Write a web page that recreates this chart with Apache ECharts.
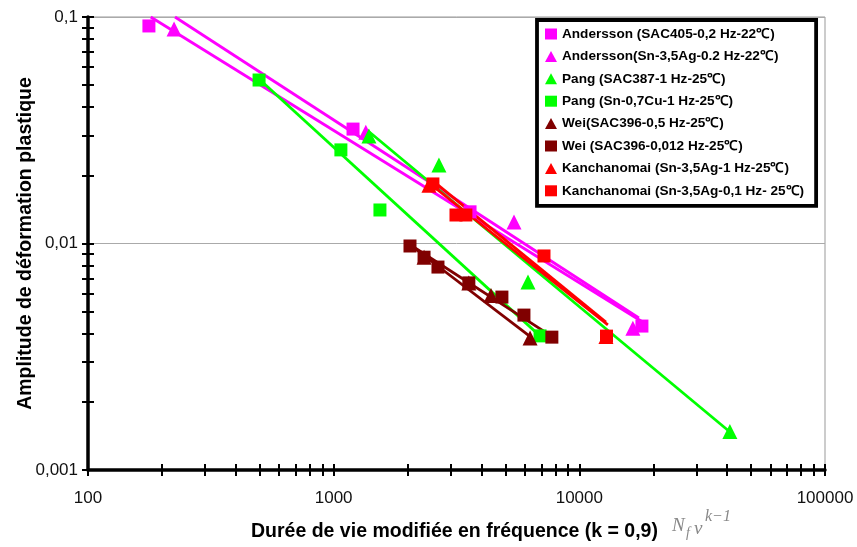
<!DOCTYPE html>
<html>
<head>
<meta charset="utf-8">
<script src="https://cdn.jsdelivr.net/npm/echarts@6/dist/echarts.min.js"></script>
<style>html,body{margin:0;padding:0;background:#fff}#c{width:857px;height:547px}</style>
</head>
<body>
<div id="c"></div>
<script>
// ---------- data ----------
const seriesNames = [
  'Andersson (SAC405-0,2 Hz-22℃)',
  'Andersson(Sn-3,5Ag-0.2 Hz-22℃)',
  'Pang (SAC387-1 Hz-25℃)',
  'Pang (Sn-0,7Cu-1 Hz-25℃)',
  'Wei(SAC396-0,5 Hz-25℃)',
  'Wei (SAC396-0,012 Hz-25℃)',
  'Kanchanomai (Sn-3,5Ag-1 Hz-25℃)',
  'Kanchanomai (Sn-3,5Ag-0,1 Hz- 25℃)'
];
const seriesSymbols = ['rect','triangle','triangle','rect','triangle','rect','triangle','rect'];
const seriesColors = ['#FF00FF','#FF00FF','#00FF00','#00FF00','#800000','#800000','#FF0000','#FF0000'];

const andSAC_x = [177, 1199, 3590, 17980];
const andSAC_y = [0.0913, 0.0320, 0.0138, 0.00432];
const andSn_x  = [224, 1352, 5420, 16520];
const andSn_y  = [0.0885, 0.0310, 0.01245, 0.00423];
const pangSAC_x = [1392, 2683, 6180, 41000];
const pangSAC_y = [0.0298, 0.0222, 0.00676, 0.00148];
const pangSn_x = [497, 1070, 1543, 6920];
const pangSn_y = [0.0527, 0.0259, 0.01406, 0.00391];
const weiTri_x = [2333, 3550, 4370, 6300];
const weiTri_y = [0.0087, 0.0067, 0.00589, 0.00383];
const weiSq_x  = [2045, 2333, 2658, 3550, 4840, 5950, 7730];
const weiSq_y  = [0.00975, 0.0087, 0.00787, 0.0067, 0.0058, 0.00483, 0.00386];
const kanTri_x = [2443, 12830];
const kanTri_y = [0.0181, 0.00389];
const kanSq_x  = [2535, 3147, 3453, 7180, 12900];
const kanSq_y  = [0.01832, 0.01336, 0.01336, 0.00881, 0.0039];

// fitted trend lines (end points)
const andSACfit_x = [180, 18660];   const andSACfit_y = [0.1, 0.00441];
const andSnfit_x  = [226, 17480];   const andSnfit_y  = [0.1, 0.00469];
const pangSACfit_x = [1366, 41400]; const pangSACfit_y = [0.0317, 0.00146];
const pangSnfit_x = [497, 6980];    const pangSnfit_y = [0.0532, 0.00387];
const weiTrifit_x = [2025, 6350];   const weiTrifit_y = [0.00995, 0.00386];
const weiSqfit_x  = [2025, 7810];   const weiSqfit_y  = [0.00995, 0.00386];
const kanTrifit_x = [2443, 13070];  const kanTrifit_y = [0.0185, 0.00437];
const kanSqfit_x  = [2535, 12830];  const kanSqfit_y  = [0.0189, 0.0045];

// axis ticks / labels
const xTickValues = [100,200,300,400,500,600,700,800,900,1000,2000,3000,4000,5000,6000,7000,8000,9000,10000,20000,30000,40000,50000,60000,70000,80000,90000,100000];
const xLabelValues = [100, 1000, 10000, 100000];
const xLabels = ['100', '1000', '10000', '100000'];
const yTickValues = [0.001,0.002,0.003,0.004,0.005,0.006,0.007,0.008,0.009,0.01,0.02,0.03,0.04,0.05,0.06,0.07,0.08,0.09,0.1];
const yLabelValues = [0.001, 0.01, 0.1];
const yLabels = ['0,001', '0,01', '0,1'];

// ---------- build ----------
const FONT = '"Liberation Sans", Arial, Helvetica, sans-serif';
const SERIF = '"Liberation Serif", "DejaVu Serif", serif';
const pts = (xs, ys) => xs.map((x, i) => [x, ys[i]]);
const scatterData = [
  pts(andSAC_x, andSAC_y), pts(andSn_x, andSn_y), pts(pangSAC_x, pangSAC_y), pts(pangSn_x, pangSn_y),
  pts(weiTri_x, weiTri_y), pts(weiSq_x, weiSq_y), pts(kanTri_x, kanTri_y), pts(kanSq_x, kanSq_y)
];
const fitData = [
  pts(andSACfit_x, andSACfit_y), pts(andSnfit_x, andSnfit_y), pts(pangSACfit_x, pangSACfit_y), pts(pangSnfit_x, pangSnfit_y),
  pts(weiTrifit_x, weiTrifit_y), pts(weiSqfit_x, weiSqfit_y), pts(kanTrifit_x, kanTrifit_y), pts(kanSqfit_x, kanSqfit_y)
];
function labelFor(vals, labs) {
  return function (v) {
    for (let i = 0; i < vals.length; i++) {
      if (Math.abs(Math.log10(vals[i]) - Math.log10(v)) < 1e-6) return labs[i];
    }
    return '';
  };
}

const series = [];
fitData.forEach((d, i) => {
  series.push({
    name: 'fit' + i, type: 'line', data: d, symbol: 'none', silent: true,
    lineStyle: { color: seriesColors[i], width: 2.8 }, z: 2
  });
});
scatterData.forEach((d, i) => {
  series.push({
    name: seriesNames[i], type: 'scatter', data: d,
    symbol: seriesSymbols[i], symbolSize: seriesSymbols[i] === 'rect' ? 13 : 15,
    itemStyle: { color: seriesColors[i], opacity: 1 }, z: 3
  });
});

const baseX = { type: 'log', logBase: 10, min: 100, max: 100000, gridIndex: 0, position: 'bottom' };
const baseY = { type: 'log', logBase: 10, min: 0.001, max: 0.1, gridIndex: 0, position: 'left' };

const option = {
  animation: false,
  backgroundColor: '#fff',
  grid: { left: 88, top: 17, right: 32, bottom: 77, outerBoundsMode: 'none', containLabel: false, show: true, borderColor: '#999', borderWidth: 1 },
  xAxis: [
    Object.assign({}, baseX, {
      axisLine: { show: true, lineStyle: { color: '#000', width: 3.5 } },
      axisTick: { show: true, inside: false, length: 6, customValues: xTickValues, lineStyle: { color: '#000', width: 2 } },
      axisLabel: { show: true, customValues: xLabelValues, formatter: labelFor(xLabelValues, xLabels), margin: 20, fontFamily: FONT, fontSize: 17, color: '#111' },
      splitLine: { show: false }
    }),
    Object.assign({}, baseX, {
      axisLine: { show: false },
      axisTick: { show: true, inside: true, length: 6, customValues: xTickValues, lineStyle: { color: '#000', width: 2 } },
      axisLabel: { show: false },
      splitLine: { show: false }
    })
  ],
  yAxis: [
    Object.assign({}, baseY, {
      axisLine: { show: true, lineStyle: { color: '#000', width: 3.5 } },
      axisTick: { show: true, inside: false, length: 6, customValues: yTickValues, lineStyle: { color: '#000', width: 2 } },
      axisLabel: { show: true, customValues: yLabelValues, formatter: labelFor(yLabelValues, yLabels), margin: 10, fontFamily: FONT, fontSize: 17, color: '#111' },
      splitLine: { show: false },
      name: 'Amplitude de déformation plastique', nameLocation: 'middle', nameGap: 52, nameMoveOverlap: false,
      nameTextStyle: { fontFamily: FONT, fontSize: 19.5, fontWeight: 'bold', color: '#000' }
    }),
    Object.assign({}, baseY, {
      axisLine: { show: false },
      axisTick: { show: true, inside: true, length: 6, customValues: yTickValues, lineStyle: { color: '#000', width: 2 } },
      axisLabel: { show: false },
      splitLine: { show: false }
    }),
    Object.assign({}, baseY, {
      axisLine: { show: false }, axisTick: { show: false }, axisLabel: { show: false },
      splitLine: { show: true, lineStyle: { color: '#aaa', width: 1 } }
    })
  ],
  legend: {
    data: seriesNames, orient: 'vertical', left: 537, top: 20,
    backgroundColor: '#fff', borderColor: '#000', borderWidth: 3.8, borderRadius: 0,
    padding: [7, 12, 8, 8], itemWidth: 12, itemHeight: 11, itemGap: 8.4,
    textStyle: { fontFamily: FONT, fontSize: 13.6, fontWeight: 'bold', color: '#000', lineHeight: 14 },
    selectedMode: false
  },
  graphic: [
    { type: 'text', left: 251, top: 522, style: { text: 'Durée de vie modifiée en fréquence (k = 0,9)', font: 'bold 19.5px ' + FONT, fill: '#000' } },
    { type: 'text', left: 672, top: 516, style: { text: 'N', font: 'italic 19px ' + SERIF, fill: '#888' } },
    { type: 'text', left: 686, top: 526, style: { text: 'f', font: 'italic 14px ' + SERIF, fill: '#888' } },
    { type: 'text', left: 694, top: 519, style: { text: 'ν', font: 'italic 19px ' + SERIF, fill: '#888' } },
    { type: 'text', left: 705, top: 509, style: { text: 'k−1', font: 'italic 16px ' + SERIF, fill: '#888' } }
  ],
  series: series
};
option.series.forEach(s => { s.xAxisIndex = 0; s.yAxisIndex = 0; });

const chart = echarts.init(document.getElementById('c'), null, { renderer: 'canvas' });
chart.setOption(option);
</script>
</body>
</html>
